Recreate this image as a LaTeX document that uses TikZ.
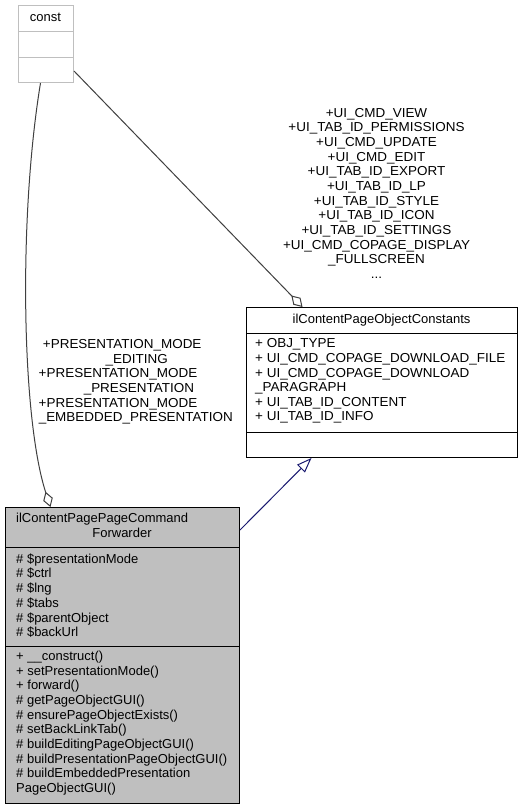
\documentclass[tikz,border=0pt]{standalone}
\usepackage{fontspec}
\setmainfont{Liberation Sans}
\newfontfamily\widesans[FakeStretch=1.036]{Liberation Sans}
\usetikzlibrary{arrows.meta}
\definecolor{boxgray}{HTML}{BFBFBF}
\definecolor{edgenavy}{HTML}{191970}
\definecolor{edgegray}{HTML}{404040}
\begin{document}
\begin{tikzpicture}[x=1pt,y=-1pt,
  txt/.style={inner sep=0pt, font=\fontsize{13}{14.65}\selectfont, anchor=base west},
  ctxt/.style={txt, anchor=base},
  wtxt/.style={txt, font=\fontsize{13}{14.65}\widesans},
  wctxt/.style={wtxt, anchor=base},
  box/.style={draw=black, line width=1pt, inner sep=0pt, anchor=north west},
  sep/.style={line width=1pt},
  agg/.style={edgegray, line width=1pt, -{Diamond[open, length=16pt, width=10pt]}},
  inh/.style={edgenavy, line width=1pt, -{Triangle[open, length=15pt, width=11pt]}},
]
\useasboundingbox[fill=white] (0,0) rectangle (523,809);

% const box
\node[box, draw=boxgray, minimum width=55pt, minimum height=77pt] (const) at (18,5) {};
\draw[sep, boxgray] (18,31) -- (73,31);
\draw[sep, boxgray] (18,57) -- (73,57);
\node[ctxt] (constT) at (45.5,21) {const};

% ilContentPageObjectConstants box
\node[box, minimum width=271pt, minimum height=150pt] (consts) at (246,307) {};
\draw[sep] (246,333) -- (517,333);
\draw[sep] (246,432) -- (517,432);
\node[ctxt] (constsT) at (381.5,323.3) {ilContentPageObjectConstants};
\node[wtxt] (ca1) at (255,347.7) {+ OBJ\_TYPE};
\node[wtxt] (ca2) at (255,362.35) {+ UI\_CMD\_COPAGE\_DOWNLOAD\_FILE};
\node[wtxt] (ca3) at (255,377.0) {+ UI\_CMD\_COPAGE\_DOWNLOAD};
\node[wtxt] (ca4) at (255,391.65) {\_PARAGRAPH};
\node[wtxt] (ca5) at (255,406.3) {+ UI\_TAB\_ID\_CONTENT};
\node[wtxt] (ca6) at (255,420.95) {+ UI\_TAB\_ID\_INFO};

% ilContentPagePageCommandForwarder box
\node[box, fill=boxgray, minimum width=234pt, minimum height=296pt] (fwd) at (5,507) {};
\draw[sep] (5,547) -- (239,547);
\draw[sep] (5,646) -- (239,646);
\node[txt] (fT1) at (16,522.7) {ilContentPagePageCommand};
\node[ctxt] (fT2) at (122,537.7) {Forwarder};
\node[txt] (fa1) at (16,563.2) {\# \$presentationMode};
\node[txt] (fa2) at (16,577.9) {\# \$ctrl};
\node[txt] (fa3) at (16,592.6) {\# \$lng};
\node[txt] (fa4) at (16,607.3) {\# \$tabs};
\node[txt] (fa5) at (16,622.0) {\# \$parentObject};
\node[txt] (fa6) at (16,636.7) {\# \$backUrl};
\node[txt] (fm1) at (16,660.3) {+ \_\_construct()};
\node[txt] (fm2) at (16,675.0) {+ setPresentationMode()};
\node[txt] (fm3) at (16,689.7) {+ forward()};
\node[txt] (fm4) at (16,704.4) {\# getPageObjectGUI()};
\node[txt] (fm5) at (16,719.1) {\# ensurePageObjectExists()};
\node[txt] (fm6) at (16,733.8) {\# setBackLinkTab()};
\node[txt] (fm7) at (16,748.5) {\# buildEditingPageObjectGUI()};
\node[txt] (fm8) at (16,763.2) {\# buildPresentationPageObjectGUI()};
\node[txt] (fm9) at (16,777.9) {\# buildEmbeddedPresentation};
\node[txt] (fm10) at (16,792.6) {PageObjectGUI()};

% connectors
\draw[agg] ([xshift=-5.5pt]const.south) .. controls (18,220) and (22,420) .. ([xshift=-72pt]fwd.north);
\draw[agg] ([yshift=12pt]const.south east) -- ([xshift=-79.5pt]consts.north);
\draw[inh] ([yshift=-23pt]fwd.north east) -- ([xshift=-70.5pt]consts.south);

% left edge label
\node[wctxt] (l1) at (122.2,348.6) {+PRESENTATION\_MODE};
\node[wctxt] (l2) at (136.7,363.25) {\_EDITING};
\node[wctxt] (l3) at (118,377.9) {+PRESENTATION\_MODE};
\node[wctxt] (l4) at (138.9,392.55) {\_PRESENTATION};
\node[wctxt] (l5) at (118,407.2) {+PRESENTATION\_MODE};
\node[wctxt] (l6) at (135.8,421.85) {\_EMBEDDED\_PRESENTATION};

% right edge label
\node[wctxt] (r1) at (376.5,117.3) {+UI\_CMD\_VIEW};
\node[wctxt] (r2) at (376.5,131.95) {+UI\_TAB\_ID\_PERMISSIONS};
\node[wctxt] (r3) at (376.5,146.6) {+UI\_CMD\_UPDATE};
\node[wctxt] (r4) at (376.5,161.25) {+UI\_CMD\_EDIT};
\node[wctxt] (r5) at (376.5,175.9) {+UI\_TAB\_ID\_EXPORT};
\node[wctxt] (r6) at (376.5,190.55) {+UI\_TAB\_ID\_LP};
\node[wctxt] (r7) at (376.5,205.2) {+UI\_TAB\_ID\_STYLE};
\node[wctxt] (r8) at (376.5,219.85) {+UI\_TAB\_ID\_ICON};
\node[wctxt] (r9) at (376.5,234.5) {+UI\_TAB\_ID\_SETTINGS};
\node[wctxt] (r10) at (376.5,249.15) {+UI\_CMD\_COPAGE\_DISPLAY};
\node[wctxt] (r11) at (376.5,263.8) {\_FULLSCREEN};
\node[wctxt] (r12) at (376.5,278.45) {...};
\end{tikzpicture}
\end{document}
